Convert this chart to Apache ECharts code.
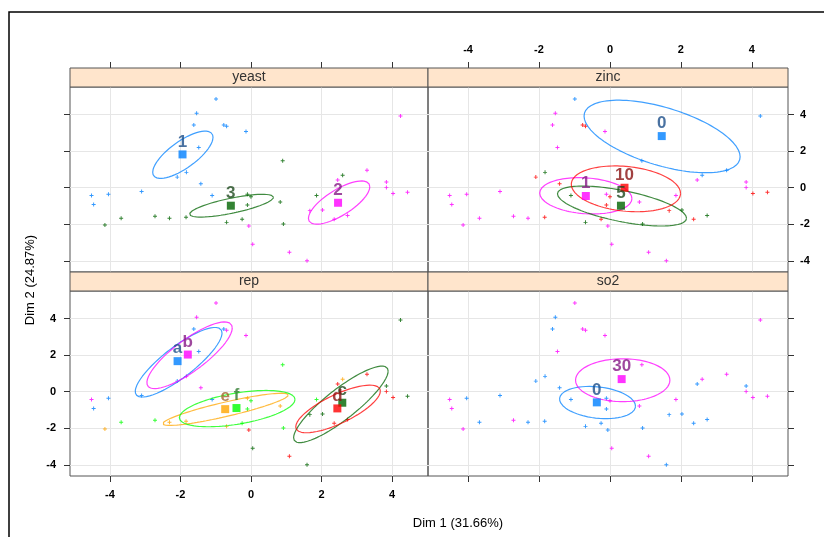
<!DOCTYPE html>
<html>
<head>
<meta charset="utf-8">
<script src="https://cdn.jsdelivr.net/npm/echarts@6/dist/echarts.min.js"></script>
<style>
html,body{margin:0;padding:0;background:#fff}
#chart{width:824px;height:537px}
</style>
</head>
<body>
<div id="chart"></div>
<script>
// Individuals on the first factorial plane (Dim 1, Dim 2)
const dim1 = [-0.99,-1.54,-1.62,-0.77,-0.69,-0.14,-1.48,-2.09,-1.83,-1.42,-4.52,-4.46,-4.04,-3.10,-1.10,
              0.90,2.60,1.86,0.83,-0.10,-0.10,-0.25,-0.69,-1.84,-2.31,-2.72,-3.68,-4.14,0.92,0.00,
              4.24,3.29,2.46,3.84,3.84,4.03,4.44,1.67,2.03,2.36,2.74,-0.06,0.05,1.09,1.59];
const dim2 = [4.85,4.07,3.42,3.42,3.36,3.07,2.20,0.58,0.84,0.22,-0.42,-0.91,-0.36,-0.20,-0.42,
              1.47,0.68,-0.42,-0.78,-0.36,-0.94,-1.72,-1.89,-1.61,-1.67,-1.56,-1.67,-2.03,-1.98,-0.49,
              3.92,0.96,0.42,0.31,0.02,-0.31,-0.25,-1.25,-1.22,-1.72,-1.51,-2.09,-3.09,-3.52,-3.99];

// Factor levels of each individual
const yeast = ['1','1','1','1','1','1','1','1','1','1','1','1','1','1','1',
               '3','3','3','3','3','3','3','3','3','3','3','3','3','3','3',
               '2','2','2','2','2','2','2','2','2','2','2','2','2','2','2'];
const zinc  = ['0','1','1','10','10','1','1','10','5','10','1','1','1','1','5',
               '0','0','1','1','1','10','10','5','10','1','1','1','1','5','10',
               '0','0','1','1','1','10','10','10','5','10','5','1','1','1','1'];
const so2   = ['30','0','0','30','30','30','30','0','0','0','30','30','0','0','0',
               '30','30','30','30','0','0','0','0','0','0','30','0','30','0','30',
               '30','30','0','0','30','30','30','0','0','0','0','0','30','30','0'];
const rep   = ['b','b','a','a','b','b','a','a','b','b','b','a','a','a','a',
               'f','e','f','e','e','f','f','e','e','e','f','f','e','f','f',
               'c','d','d','c','d','d','c','c','c','d','d','d','c','d','c'];

// Category centres
const yeastLevels = ['1','2','3'];
const yeastMeanX = [-1.94, 2.47, -0.57];
const yeastMeanY = [1.82, -0.82, -0.98];
const zincLevels = ['0','1','5','10'];
const zincMeanX = [1.46, -0.68, 0.31, 0.41];
const zincMeanY = [2.82, -0.45, -0.98, 0.00];
const so2Levels = ['0','30'];
const so2MeanX = [-0.37, 0.33];
const so2MeanY = [-0.58, 0.69];
const repLevels = ['a','b','c','d','e','f'];
const repMeanX = [-2.08, -1.79, 2.59, 2.45, -0.73, -0.41];
const repMeanY = [1.67, 2.03, -0.60, -0.91, -0.95, -0.89];

// Confidence ellipses: centre x, centre y, half-width, half-height, correlation
const yeastEllipse = [[-1.93,1.80,0.855,1.29,0.74],[2.50,-0.81,0.87,1.18,0.73],[-0.55,-0.98,1.19,0.62,0.74]];
const zincEllipse = [[1.47,2.80,2.20,1.98,-0.56],[-0.68,-0.44,1.30,0.99,-0.15],[0.34,-1.00,1.82,1.09,-0.61],[0.45,-0.06,1.54,1.25,-0.20]];
const so2Ellipse = [[-0.35,-0.59,1.07,0.88,-0.22],[0.36,0.63,1.33,1.17,0.0]];
const repEllipse = [[-2.05,1.61,1.23,1.90,0.84],[-1.74,1.99,1.21,1.82,0.82],[2.55,-0.69,1.34,2.09,0.87],
                    [2.47,-0.94,1.20,1.30,0.75],[-0.72,-0.96,1.78,0.88,0.89],[-0.39,-0.92,1.64,0.99,0.50]];

const tickValues = [-4, -2, 0, 2, 4];

// lattice superpose palette, with darker shades for the category labels
const palette   = ['#0080ff', '#ff00ff', '#006400', '#ff0000', '#ffa500', '#00ff00'];
const textShade = ['#1d4f8a', '#861a86', '#1e4a1e', '#8a1212', '#a2652a', '#2d7a2d'];

const XMIN = -5.13, XMAX = 5.02, YMIN = -4.6, YMAX = 5.5;

const panels = [
  {name: 'yeast', groups: yeast, levels: yeastLevels, mx: yeastMeanX, my: yeastMeanY, ell: yeastEllipse},
  {name: 'zinc',  groups: zinc,  levels: zincLevels,  mx: zincMeanX,  my: zincMeanY,  ell: zincEllipse},
  {name: 'rep',   groups: rep,   levels: repLevels,   mx: repMeanX,   my: repMeanY,   ell: repEllipse},
  {name: 'so2',   groups: so2,   levels: so2Levels,   mx: so2MeanX,   my: so2MeanY,   ell: so2Ellipse}
];

const boxes = [
  {left: 70,  top: 87,  width: 358, height: 185},
  {left: 428, top: 87,  width: 360, height: 185},
  {left: 70,  top: 291, width: 358, height: 185},
  {left: 428, top: 291, width: 360, height: 185}
];
const STRIP = 19;

const labelFont = {fontFamily: 'Liberation Sans Narrow, Liberation Sans, Arial, sans-serif', fontWeight: 'bold', fontSize: 11, color: '#000'};

function ellipsePath(e) {
  const [cx, cy, sx, sy, r] = e;
  const q = Math.sqrt(1 - r * r);
  const pts = [];
  for (let i = 0; i <= 120; i++) {
    const t = i / 120 * 2 * Math.PI;
    pts.push([cx + sx * Math.cos(t), cy + sy * (r * Math.cos(t) + q * Math.sin(t))]);
  }
  return pts;
}

function xAxis(i, pos, labels) {
  return {
    type: 'value', gridIndex: i, position: pos, min: XMIN, max: XMAX, splitNumber: 5,
    offset: pos === 'top' ? STRIP : 0,
    axisLine: {show: false, onZero: false},
    axisTick: {show: true, length: 6, customValues: tickValues, lineStyle: {color: '#333', width: 1}},
    axisLabel: Object.assign({show: labels, margin: 13, customValues: tickValues}, labelFont),
    splitLine: {show: true, lineStyle: {color: '#e6e6e6', width: 1}}
  };
}
function yAxis(i, pos, labels) {
  return {
    type: 'value', gridIndex: i, position: pos, min: YMIN, max: YMAX, splitNumber: 5,
    axisLine: {show: false, onZero: false},
    axisTick: {show: true, length: 6, customValues: tickValues, lineStyle: {color: '#333', width: 1}},
    axisLabel: Object.assign({show: labels, margin: pos === 'left' ? 14 : 12, customValues: tickValues}, labelFont),
    splitLine: {show: true, lineStyle: {color: '#e6e6e6', width: 1}}
  };
}

const plusSymbol = 'path://M3.8,0H6.2V3.8H10V6.2H6.2V10H3.8V6.2H0V3.8H3.8Z';

const series = [];
panels.forEach((p, pi) => {
  // ellipses
  p.levels.forEach((lv, li) => {
    series.push({
      type: 'line', xAxisIndex: pi, yAxisIndex: pi, data: ellipsePath(p.ell[li]),
      showSymbol: false, symbol: 'none', silent: true, animation: false, z: 3,
      lineStyle: {color: palette[li], width: 1.2, opacity: 0.75}
    });
  });
  // individuals
  const pts = dim1.map((x, k) => ({value: [x, dim2[k]], itemStyle: {color: palette[p.levels.indexOf(p.groups[k])], opacity: 0.8}}));
  series.push({
    type: 'scatter', xAxisIndex: pi, yAxisIndex: pi, data: pts, symbol: plusSymbol, symbolSize: 4,
    animation: false, z: 2
  });
  // category centres with their labels
  const means = p.levels.map((lv, li) => ({
    value: [p.mx[li], p.my[li]], name: lv,
    itemStyle: {color: palette[li]},
    label: {color: textShade[li]}
  }));
  series.push({
    type: 'scatter', xAxisIndex: pi, yAxisIndex: pi, data: means, symbol: 'rect', symbolSize: 8,
    animation: false, z: 5,
    label: {show: true, position: 'top', distance: 0, formatter: '{b}',
            fontFamily: 'Liberation Sans, Arial, sans-serif', fontWeight: 'bold', fontSize: 17}
  });
});

// panel strips with the factor names
const graphics = [];
panels.forEach((p, pi) => {
  const b = boxes[pi];
  graphics.push({
    type: 'rect', shape: {x: b.left, y: b.top - STRIP, width: b.width, height: STRIP},
    style: {fill: '#ffe5cc', stroke: '#555', lineWidth: 1}, z: 10
  });
  graphics.push({
    type: 'text', x: b.left + b.width / 2, y: b.top - STRIP / 2,
    style: {text: p.name, fill: '#333', font: '14px "Liberation Sans", Arial, sans-serif', align: 'center', verticalAlign: 'middle'},
    z: 11
  });
});
// outer frame
graphics.push({type: 'polyline', shape: {points: [[9, 537], [9, 12], [824, 12]]}, style: {stroke: '#000', lineWidth: 1.5, fill: null}, z: 10});
// axis titles
graphics.push({
  type: 'text', x: 458, y: 523,
  style: {text: 'Dim 1 (31.66%)', fill: '#000', font: '13px "Liberation Sans Narrow", "Liberation Sans", Arial, sans-serif', align: 'center', verticalAlign: 'middle'}
});
graphics.push({
  type: 'text', x: 30, y: 280, rotation: Math.PI / 2,
  style: {text: 'Dim 2 (24.87%)', fill: '#000', font: '13px "Liberation Sans", Arial, sans-serif', align: 'center', verticalAlign: 'middle'}
});

const chart = echarts.init(document.getElementById('chart'), null, {renderer: 'canvas'});
chart.setOption({
  animation: false,
  backgroundColor: '#fff',
  grid: boxes.map(b => Object.assign({show: true, borderColor: '#555', borderWidth: 1, backgroundColor: 'transparent', containLabel: false}, b)),
  xAxis: [xAxis(0, 'top', false), xAxis(1, 'top', true), xAxis(2, 'bottom', true), xAxis(3, 'bottom', false)],
  yAxis: [yAxis(0, 'left', false), yAxis(1, 'right', true), yAxis(2, 'left', true), yAxis(3, 'right', false)],
  series: series,
  graphic: graphics
});
</script>
</body>
</html>
